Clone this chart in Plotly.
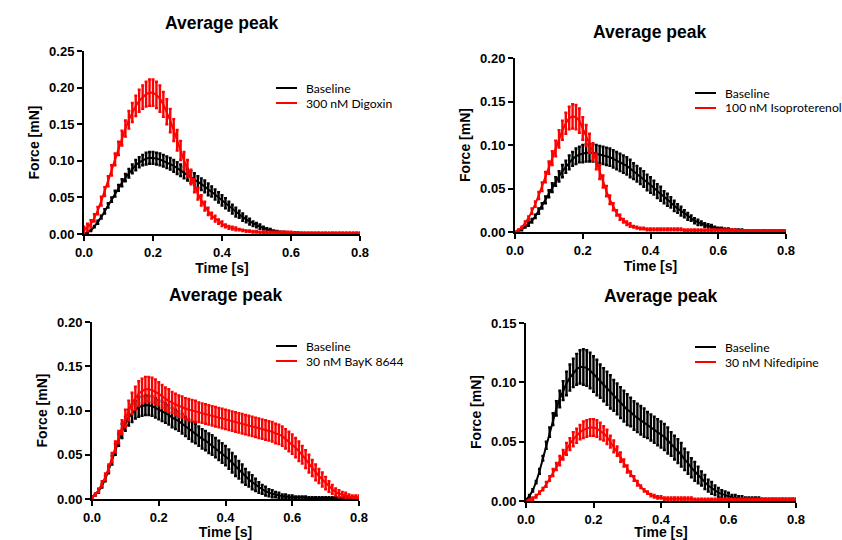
import plotly.graph_objects as go

# ---------------- data (step 0.01 s) ----------------
TIME = [round(i * 0.01, 2) for i in range(81)]

DIG_BASE = [0.000, 0.002, 0.005, 0.010, 0.016, 0.023, 0.031, 0.039, 0.047, 0.055,
            0.063, 0.070, 0.077, 0.083, 0.089, 0.094, 0.098, 0.101, 0.103, 0.104,
            0.104, 0.103, 0.102, 0.100, 0.098, 0.096, 0.093, 0.090, 0.087, 0.084,
            0.081, 0.078, 0.075, 0.071, 0.068, 0.065, 0.061, 0.058, 0.054, 0.050,
            0.046, 0.042, 0.038, 0.034, 0.030, 0.027, 0.023, 0.020, 0.017, 0.014,
            0.012, 0.010, 0.008, 0.006, 0.005, 0.004, 0.003, 0.002, 0.002, 0.001,
            0.001, 0.001, 0.001, 0.001, 0.001, 0.001, 0.000, 0.000, 0.000, 0.000,
            0.000, 0.000, 0.000, 0.000, 0.000, 0.000, 0.000, 0.000, 0.000, 0.000,
            0.000]
DIG_BASE_ERR = [0.000, 0.001, 0.001, 0.001, 0.002, 0.002, 0.003, 0.003, 0.003, 0.004,
                0.004, 0.005, 0.005, 0.006, 0.006, 0.007, 0.007, 0.007, 0.008, 0.008,
                0.008, 0.008, 0.008, 0.008, 0.008, 0.008, 0.008, 0.008, 0.008, 0.008,
                0.008, 0.008, 0.008, 0.008, 0.008, 0.008, 0.008, 0.007, 0.007, 0.007,
                0.007, 0.007, 0.006, 0.006, 0.006, 0.005, 0.005, 0.004, 0.004, 0.003,
                0.003, 0.003, 0.002, 0.002, 0.002, 0.001, 0.001, 0.001, 0.001, 0.001,
                0.001, 0.001, 0.001, 0.000, 0.000, 0.000, 0.000, 0.000, 0.000, 0.000,
                0.000, 0.000, 0.000, 0.000, 0.000, 0.000, 0.000, 0.000, 0.000, 0.000,
                0.000]
DIG = [0.005, 0.009, 0.014, 0.022, 0.032, 0.045, 0.058, 0.072, 0.087, 0.102,
       0.117, 0.131, 0.144, 0.156, 0.166, 0.175, 0.182, 0.187, 0.191, 0.193,
       0.193, 0.190, 0.185, 0.177, 0.167, 0.155, 0.142, 0.128, 0.114, 0.100,
       0.090, 0.078, 0.066, 0.055, 0.046, 0.038, 0.031, 0.025, 0.021, 0.017,
       0.014, 0.011, 0.009, 0.008, 0.007, 0.006, 0.005, 0.004, 0.004, 0.003,
       0.003, 0.002, 0.002, 0.002, 0.002, 0.002, 0.002, 0.002, 0.002, 0.002,
       0.002, 0.001, 0.001, 0.001, 0.001, 0.001, 0.001, 0.001, 0.001, 0.001,
       0.001, 0.001, 0.001, 0.001, 0.001, 0.001, 0.001, 0.001, 0.001, 0.001,
       0.001]
DIG_ERR = [0.005, 0.005, 0.005, 0.005, 0.005, 0.006, 0.006, 0.007, 0.007, 0.008,
           0.009, 0.010, 0.011, 0.012, 0.013, 0.014, 0.015, 0.016, 0.017, 0.018,
           0.018, 0.018, 0.018, 0.017, 0.017, 0.016, 0.015, 0.014, 0.013, 0.012,
           0.011, 0.010, 0.009, 0.008, 0.007, 0.006, 0.005, 0.004, 0.004, 0.003,
           0.003, 0.002, 0.002, 0.002, 0.002, 0.001, 0.001, 0.001, 0.001, 0.001,
           0.001, 0.001, 0.001, 0.001, 0.001, 0.001, 0.001, 0.001, 0.001, 0.001,
           0.001, 0.001, 0.001, 0.001, 0.001, 0.001, 0.001, 0.001, 0.001, 0.001,
           0.001, 0.001, 0.001, 0.001, 0.001, 0.001, 0.001, 0.001, 0.001, 0.001,
           0.001]

ISO_BASE = [0.000, 0.001, 0.003, 0.006, 0.009, 0.013, 0.018, 0.024, 0.030, 0.037,
            0.044, 0.051, 0.058, 0.064, 0.070, 0.075, 0.080, 0.084, 0.087, 0.089,
            0.090, 0.091, 0.091, 0.091, 0.090, 0.089, 0.088, 0.087, 0.086, 0.084,
            0.082, 0.080, 0.078, 0.076, 0.073, 0.070, 0.067, 0.064, 0.061, 0.057,
            0.054, 0.051, 0.047, 0.044, 0.040, 0.037, 0.034, 0.030, 0.027, 0.024,
            0.021, 0.018, 0.016, 0.013, 0.011, 0.010, 0.008, 0.007, 0.006, 0.005,
            0.004, 0.004, 0.003, 0.003, 0.002, 0.002, 0.002, 0.002, 0.001, 0.001,
            0.001, 0.001, 0.001, 0.001, 0.001, 0.001, 0.001, 0.001, 0.001, 0.001,
            0.001]
ISO_BASE_ERR = [0.000, 0.001, 0.001, 0.001, 0.002, 0.002, 0.002, 0.003, 0.003, 0.004,
                0.004, 0.005, 0.005, 0.006, 0.007, 0.007, 0.008, 0.008, 0.009, 0.009,
                0.010, 0.010, 0.010, 0.010, 0.010, 0.010, 0.010, 0.010, 0.010, 0.010,
                0.010, 0.010, 0.010, 0.010, 0.010, 0.009, 0.009, 0.009, 0.009, 0.009,
                0.009, 0.008, 0.008, 0.008, 0.007, 0.007, 0.006, 0.006, 0.005, 0.005,
                0.004, 0.004, 0.003, 0.003, 0.003, 0.002, 0.002, 0.002, 0.002, 0.001,
                0.001, 0.001, 0.001, 0.001, 0.001, 0.001, 0.001, 0.001, 0.001, 0.001,
                0.001, 0.001, 0.001, 0.001, 0.001, 0.001, 0.001, 0.001, 0.001, 0.001,
                0.001]
ISO = [0.000, 0.002, 0.005, 0.010, 0.016, 0.024, 0.032, 0.042, 0.052, 0.063,
       0.074, 0.085, 0.096, 0.107, 0.117, 0.125, 0.131, 0.133, 0.132, 0.128,
       0.119, 0.111, 0.102, 0.092, 0.081, 0.069, 0.058, 0.047, 0.037, 0.029,
       0.022, 0.017, 0.013, 0.010, 0.008, 0.006, 0.005, 0.004, 0.004, 0.003,
       0.003, 0.003, 0.003, 0.003, 0.003, 0.003, 0.003, 0.003, 0.003, 0.003,
       0.002, 0.002, 0.002, 0.002, 0.002, 0.002, 0.002, 0.002, 0.002, 0.002,
       0.002, 0.002, 0.002, 0.002, 0.002, 0.002, 0.001, 0.001, 0.001, 0.001,
       0.001, 0.001, 0.001, 0.001, 0.001, 0.001, 0.001, 0.001, 0.001, 0.001,
       0.001]
ISO_ERR = [0.000, 0.001, 0.001, 0.002, 0.002, 0.003, 0.003, 0.004, 0.005, 0.006,
           0.007, 0.008, 0.009, 0.010, 0.011, 0.012, 0.013, 0.014, 0.014, 0.014,
           0.013, 0.012, 0.011, 0.010, 0.009, 0.008, 0.007, 0.006, 0.005, 0.004,
           0.003, 0.003, 0.002, 0.002, 0.002, 0.001, 0.001, 0.001, 0.001, 0.001,
           0.001, 0.001, 0.001, 0.001, 0.001, 0.001, 0.001, 0.001, 0.001, 0.001,
           0.001, 0.001, 0.001, 0.001, 0.001, 0.001, 0.001, 0.001, 0.001, 0.001,
           0.001, 0.001, 0.001, 0.001, 0.001, 0.001, 0.001, 0.001, 0.001, 0.001,
           0.001, 0.001, 0.001, 0.001, 0.001, 0.001, 0.001, 0.001, 0.001, 0.001,
           0.001]

BAY_BASE = [0.002, 0.005, 0.009, 0.015, 0.023, 0.033, 0.044, 0.056, 0.067, 0.077,
            0.085, 0.092, 0.097, 0.101, 0.104, 0.105, 0.106, 0.106, 0.105, 0.103,
            0.101, 0.099, 0.097, 0.095, 0.092, 0.090, 0.088, 0.085, 0.082, 0.079,
            0.076, 0.074, 0.071, 0.068, 0.066, 0.063, 0.061, 0.058, 0.055, 0.052,
            0.049, 0.045, 0.041, 0.037, 0.033, 0.029, 0.025, 0.022, 0.019, 0.016,
            0.013, 0.011, 0.009, 0.007, 0.006, 0.005, 0.004, 0.003, 0.003, 0.002,
            0.002, 0.002, 0.002, 0.002, 0.002, 0.001, 0.001, 0.001, 0.001, 0.001,
            0.001, 0.001, 0.001, 0.001, 0.001, 0.001, 0.001, 0.001, 0.001, 0.001,
            0.001]
BAY_BASE_ERR = [0.001, 0.001, 0.002, 0.002, 0.003, 0.004, 0.005, 0.006, 0.007, 0.008,
                0.008, 0.009, 0.010, 0.010, 0.011, 0.011, 0.011, 0.011, 0.011, 0.011,
                0.011, 0.011, 0.011, 0.011, 0.011, 0.011, 0.011, 0.011, 0.011, 0.011,
                0.011, 0.011, 0.011, 0.011, 0.011, 0.011, 0.011, 0.011, 0.011, 0.011,
                0.011, 0.011, 0.011, 0.011, 0.010, 0.010, 0.009, 0.008, 0.008, 0.007,
                0.006, 0.005, 0.005, 0.004, 0.004, 0.003, 0.003, 0.002, 0.002, 0.002,
                0.002, 0.001, 0.001, 0.001, 0.001, 0.001, 0.001, 0.001, 0.001, 0.001,
                0.001, 0.001, 0.001, 0.001, 0.001, 0.001, 0.001, 0.001, 0.001, 0.001,
                0.001]
BAY = [0.002, 0.005, 0.010, 0.017, 0.025, 0.035, 0.047, 0.059, 0.070, 0.081,
       0.091, 0.100, 0.108, 0.114, 0.119, 0.122, 0.124, 0.124, 0.123, 0.121,
       0.119, 0.116, 0.113, 0.111, 0.109, 0.107, 0.105, 0.104, 0.102, 0.101,
       0.100, 0.099, 0.098, 0.097, 0.096, 0.095, 0.094, 0.093, 0.092, 0.091,
       0.090, 0.089, 0.088, 0.087, 0.086, 0.085, 0.084, 0.083, 0.082, 0.081,
       0.080, 0.079, 0.078, 0.077, 0.076, 0.074, 0.073, 0.071, 0.068, 0.065,
       0.062, 0.058, 0.054, 0.050, 0.045, 0.040, 0.035, 0.030, 0.026, 0.022,
       0.018, 0.014, 0.011, 0.008, 0.006, 0.005, 0.004, 0.003, 0.002, 0.002,
       0.002]
BAY_ERR = [0.001, 0.001, 0.002, 0.003, 0.004, 0.004, 0.005, 0.006, 0.007, 0.008,
           0.010, 0.011, 0.012, 0.013, 0.014, 0.014, 0.014, 0.014, 0.014, 0.014,
           0.013, 0.013, 0.013, 0.013, 0.012, 0.012, 0.012, 0.012, 0.012, 0.012,
           0.012, 0.012, 0.011, 0.011, 0.011, 0.011, 0.011, 0.011, 0.011, 0.011,
           0.011, 0.011, 0.011, 0.011, 0.011, 0.011, 0.011, 0.011, 0.011, 0.011,
           0.011, 0.011, 0.011, 0.011, 0.011, 0.011, 0.011, 0.011, 0.011, 0.011,
           0.011, 0.011, 0.011, 0.010, 0.010, 0.010, 0.009, 0.009, 0.008, 0.008,
           0.007, 0.006, 0.005, 0.004, 0.004, 0.003, 0.003, 0.002, 0.002, 0.002,
           0.002]

NIF_BASE = [0.001, 0.004, 0.009, 0.016, 0.025, 0.036, 0.047, 0.058, 0.069, 0.078,
            0.086, 0.093, 0.099, 0.104, 0.108, 0.111, 0.113, 0.113, 0.112, 0.110,
            0.107, 0.104, 0.101, 0.098, 0.095, 0.092, 0.089, 0.086, 0.083, 0.080,
            0.077, 0.075, 0.072, 0.070, 0.068, 0.066, 0.064, 0.062, 0.060, 0.058,
            0.056, 0.054, 0.051, 0.048, 0.045, 0.042, 0.039, 0.035, 0.032, 0.028,
            0.025, 0.022, 0.019, 0.016, 0.013, 0.011, 0.009, 0.007, 0.006, 0.005,
            0.004, 0.003, 0.003, 0.002, 0.002, 0.002, 0.002, 0.002, 0.002, 0.002,
            0.001, 0.001, 0.001, 0.001, 0.001, 0.001, 0.001, 0.001, 0.001, 0.001,
            0.001]
NIF_BASE_ERR = [0.000, 0.001, 0.001, 0.001, 0.002, 0.002, 0.003, 0.004, 0.005, 0.006,
                0.007, 0.008, 0.010, 0.011, 0.012, 0.013, 0.014, 0.015, 0.015, 0.015,
                0.015, 0.015, 0.014, 0.014, 0.014, 0.014, 0.013, 0.013, 0.013, 0.013,
                0.013, 0.012, 0.012, 0.012, 0.012, 0.012, 0.011, 0.011, 0.011, 0.011,
                0.011, 0.011, 0.011, 0.010, 0.010, 0.010, 0.010, 0.009, 0.009, 0.008,
                0.008, 0.007, 0.006, 0.006, 0.005, 0.005, 0.004, 0.004, 0.003, 0.003,
                0.003, 0.002, 0.002, 0.002, 0.002, 0.001, 0.001, 0.001, 0.001, 0.001,
                0.001, 0.001, 0.001, 0.001, 0.001, 0.001, 0.001, 0.001, 0.001, 0.001,
                0.001]
NIF = [0.000, 0.001, 0.002, 0.004, 0.007, 0.010, 0.014, 0.019, 0.024, 0.029,
       0.034, 0.039, 0.044, 0.048, 0.052, 0.055, 0.058, 0.060, 0.061, 0.062,
       0.062, 0.061, 0.059, 0.057, 0.054, 0.050, 0.046, 0.042, 0.037, 0.032,
       0.027, 0.023, 0.019, 0.015, 0.012, 0.009, 0.007, 0.005, 0.004, 0.003,
       0.003, 0.002, 0.002, 0.002, 0.002, 0.002, 0.002, 0.002, 0.002, 0.002,
       0.001, 0.001, 0.001, 0.001, 0.001, 0.001, 0.001, 0.001, 0.001, 0.001,
       0.001, 0.001, 0.001, 0.001, 0.001, 0.001, 0.001, 0.001, 0.001, 0.001,
       0.001, 0.001, 0.001, 0.001, 0.001, 0.001, 0.001, 0.001, 0.001, 0.001,
       0.001]
NIF_ERR = [0.000, 0.000, 0.001, 0.001, 0.001, 0.001, 0.002, 0.002, 0.003, 0.003,
           0.004, 0.004, 0.005, 0.005, 0.006, 0.006, 0.006, 0.007, 0.007, 0.007,
           0.007, 0.007, 0.007, 0.006, 0.006, 0.005, 0.005, 0.004, 0.004, 0.003,
           0.003, 0.002, 0.002, 0.002, 0.001, 0.001, 0.001, 0.001, 0.001, 0.001,
           0.001, 0.001, 0.001, 0.001, 0.001, 0.001, 0.001, 0.001, 0.001, 0.001,
           0.001, 0.001, 0.001, 0.001, 0.001, 0.001, 0.001, 0.001, 0.001, 0.001,
           0.001, 0.001, 0.001, 0.001, 0.001, 0.001, 0.001, 0.001, 0.001, 0.001,
           0.001, 0.001, 0.001, 0.001, 0.001, 0.001, 0.001, 0.001, 0.001, 0.001,
           0.001]

TITLE = "Average peak"
BASE_LABEL = "Baseline"
DRUG_LABELS = ["300 nM Digoxin", "100 nM Isoproterenol", "30 nM BayK 8644", "30 nM Nifedipine"]
Y_MAX = [0.25, 0.20, 0.20, 0.15]
X_MAX = 0.8

PANELS = [
    (DIG_BASE, DIG_BASE_ERR, DIG, DIG_ERR),
    (ISO_BASE, ISO_BASE_ERR, ISO, ISO_ERR),
    (BAY_BASE, BAY_BASE_ERR, BAY, BAY_ERR),
    (NIF_BASE, NIF_BASE_ERR, NIF, NIF_ERR),
]

# ---------------- layout (pixel geometry of the reference) ----------------
W, H = 842, 540
# (x0, x1, y_bottom, y_top) in pixels
BOXES = [(84, 360, 234, 51), (515, 786, 232, 58), (92, 359, 499, 322), (526, 796, 501, 323)]
TITLE_POS = [(221, 23), (649, 32), (225, 295), (660, 296)]
LEGEND_POS = [(276, 88), (695, 93), (276, 346), (695, 347)]
X_TITLE_STANDOFF = [5, 5, 7, 7]

BLACK = "#000000"
RED = "#FF0000"
SANS = "Liberation Sans, Arial, sans-serif"
AX_FONT = dict(family=SANS, size=13, color="black", weight="bold")
TITLE_FONT = dict(family=SANS, size=14, color="black", weight="bold")

fig = go.Figure()
annotations = []
shapes = []

for i, (base, base_err, drug, drug_err) in enumerate(PANELS):
    n = "" if i == 0 else str(i + 1)
    xa, ya = "x" + n, "y" + n
    for vals, err, col in ((base, base_err, BLACK), (drug, drug_err, RED)):
        fig.add_trace(go.Scatter(
            x=TIME, y=vals, xaxis=xa, yaxis=ya, mode="lines",
            line=dict(color=col, width=2),
            error_y=dict(type="data", array=err, color=col, thickness=2.4, width=1.5),
            showlegend=False, hoverinfo="skip",
        ))
    x0, x1, yb, yt = BOXES[i]
    fig.layout["xaxis" + n] = dict(
        domain=[x0 / W, x1 / W], anchor=ya, range=[0, X_MAX],
        dtick=0.2, tickformat=".1f", showgrid=False, zeroline=False,
        showline=True, linecolor="black", linewidth=2,
        ticks="outside", ticklen=5, tickwidth=2, tickcolor="black",
        tickfont=AX_FONT,
        title=dict(text="Time [s]", font=TITLE_FONT, standoff=X_TITLE_STANDOFF[i]),
        automargin=False,
    )
    fig.layout["yaxis" + n] = dict(
        domain=[1 - yb / H, 1 - yt / H], anchor=xa, range=[0, Y_MAX[i]],
        dtick=0.05, tickformat=".2f", showgrid=False, zeroline=False,
        showline=True, linecolor="black", linewidth=2,
        ticks="outside", ticklen=5, tickwidth=2, tickcolor="black",
        tickfont=AX_FONT, title=dict(text="Force [mN]", font=TITLE_FONT, standoff=6),
        automargin=False,
    )
    tx, ty = TITLE_POS[i]
    annotations.append(dict(
        text=TITLE, x=tx / W, y=1 - ty / H, xref="paper", yref="paper",
        showarrow=False, xanchor="center", yanchor="middle",
        font=dict(family=SANS, size=17.5, color="black", weight="bold"),
    ))
    lx, ly = LEGEND_POS[i]
    for k, (lab, col) in enumerate(((BASE_LABEL, BLACK), (DRUG_LABELS[i], RED))):
        yy = 1 - (ly + 15 * k) / H
        shapes.append(dict(type="line", xref="paper", yref="paper",
                           x0=lx / W, x1=(lx + 21) / W, y0=yy, y1=yy,
                           line=dict(color=col, width=2)))
        annotations.append(dict(
            text=lab, x=(lx + 28) / W, y=yy, xref="paper", yref="paper",
            showarrow=False, xanchor="left", yanchor="middle",
            font=dict(family="Lato, Open Sans, sans-serif", size=12.2, color="black"),
        ))

fig.update_layout(
    width=W, height=H, autosize=False,
    margin=dict(l=0, r=0, t=0, b=0),
    paper_bgcolor="white", plot_bgcolor="white",
    annotations=annotations, shapes=shapes,
    showlegend=False,
)

fig.write_html(
    "out.html",
    config={"displayModeBar": False},
    post_script="document.body.style.margin='0';document.body.style.overflow='hidden';",
)
